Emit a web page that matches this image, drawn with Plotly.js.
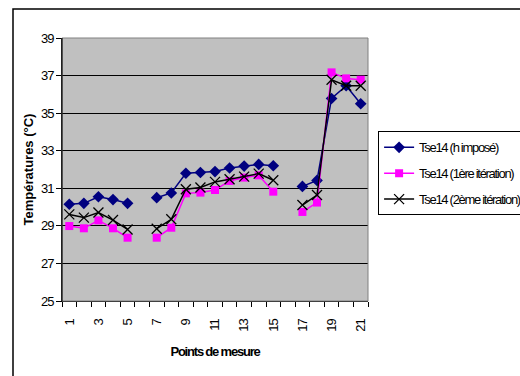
<!DOCTYPE html>
<html>
<head>
<meta charset="utf-8">
<script src="https://cdn.plot.ly/plotly-3.0.1.min.js"></script>
<style>
html,body{margin:0;padding:0;background:#fff;overflow:hidden;width:520px;height:376px;}
#chart{width:545px;height:376px;}
.xtick text,.ytick text{letter-spacing:-1px;}
.legendtext{letter-spacing:-1.3px;}
.g-xtitle text{letter-spacing:-1.2px;}
</style>
</head>
<body>
<div id="chart"></div>
<script>
// Data
const points = [1,2,3,4,5,6,7,8,9,10,11,12,13,14,15,16,17,18,19,20,21];
const tickLabels = ['1','3','5','7','9','11','13','15','17','19','21'];
const tickPositions = [1,3,5,7,9,11,13,15,17,19,21];
const seriesNames = ['Tse14 (h imposé)', 'Tse14 (1ère itération)', 'Tse14 (2ème itération)'];
const hImpose = [30.15,30.2,30.55,30.4,30.2,null,30.5,30.75,31.8,31.84,31.89,32.08,32.18,32.27,32.2,null,31.1,31.42,35.78,36.46,35.5];
const iter1 = [28.99,28.87,29.29,28.87,28.37,null,28.37,28.9,30.73,30.77,30.91,31.39,31.57,31.69,30.82,null,29.74,30.24,37.17,36.85,36.78];
const iter2 = [29.61,29.44,29.71,29.31,28.81,null,28.85,29.35,30.95,31.04,31.34,31.48,31.62,31.78,31.43,null,30.11,30.64,36.78,36.46,36.46];

const traces = [
  {x: points, y: hImpose, name: seriesNames[0], legendgroup:'a', mode:'lines+markers', connectgaps:false,
   line:{color:'#000080', width:1.5}, marker:{symbol:'diamond', size:9, color:'#000080'}},
  {x: points, y: iter1, name: seriesNames[1], legendgroup:'b', mode:'lines+markers', connectgaps:false,
   line:{color:'#FF00FF', width:1.5}, marker:{symbol:'square', size:8, color:'#FF00FF'}},
  {x: points, y: iter2, name: seriesNames[2], legendgroup:'c', mode:'lines+markers', connectgaps:false,
   line:{color:'#000000', width:1.5}, marker:{symbol:'x-thin', size:10, line:{color:'#000000', width:1.3}}}
];

const layout = {
  width:545, height:376,
  margin:{l:62, r:177, t:38, b:75},
  paper_bgcolor:'#ffffff',
  plot_bgcolor:'#C0C0C0',
  font:{family:'Liberation Sans, Arial, sans-serif', size:12, color:'#000'},
  showlegend:true,
  legend:{x:1.033, y:0.645, xanchor:'left', yanchor:'top', bgcolor:'#ffffff',
    bordercolor:'#000', borderwidth:1, font:{size:13},
    tracegroupgap:6, itemwidth:30},
  xaxis:{range:[0.5,21.5], tickmode:'array', tickvals:tickPositions, ticktext:tickLabels,
    tickangle:-90, ticks:'', showgrid:false, zeroline:false, ticklabelstandoff:12,
    showline:true, linecolor:'#000', linewidth:1, mirror:false,
    minor:{tick0:0.5, dtick:1, ticks:'outside', ticklen:5, tickcolor:'#000', tickwidth:1, showgrid:false},
    tickfont:{size:13},
    title:{text:'<b>Points de mesure</b>', font:{size:13}, standoff:16}},
  yaxis:{range:[25,39], dtick:2, tick0:25, ticks:'outside', ticklen:5, tickcolor:'#000',
    showgrid:true, gridcolor:'#000', gridwidth:1, zeroline:false,
    showline:true, linecolor:'#000', linewidth:1,
    tickfont:{size:13},
    title:{text:'<b>Températures (°C)</b>', font:{size:13}, standoff:4}},
  shapes:[
    {type:'rect', xref:'paper', yref:'paper', x0:0, x1:1, y0:0, y1:1, line:{color:'#808080', width:1}, layer:'above'},
    {type:'line', xref:'paper', yref:'paper', x0:0, x1:0, y0:0, y1:1, line:{color:'#000', width:1}, layer:'above'},
    {type:'rect', xref:'paper', yref:'paper', x0:(13-62)/306, x1:(560-62)/306, y0:-(420-301)/263, y1:(301-9)/263,
     line:{color:'#000', width:1.5}, layer:'below'}
  ]
};

Plotly.newPlot('chart', traces, layout, {displayModeBar:false, staticPlot:true});
</script>
</body>
</html>
